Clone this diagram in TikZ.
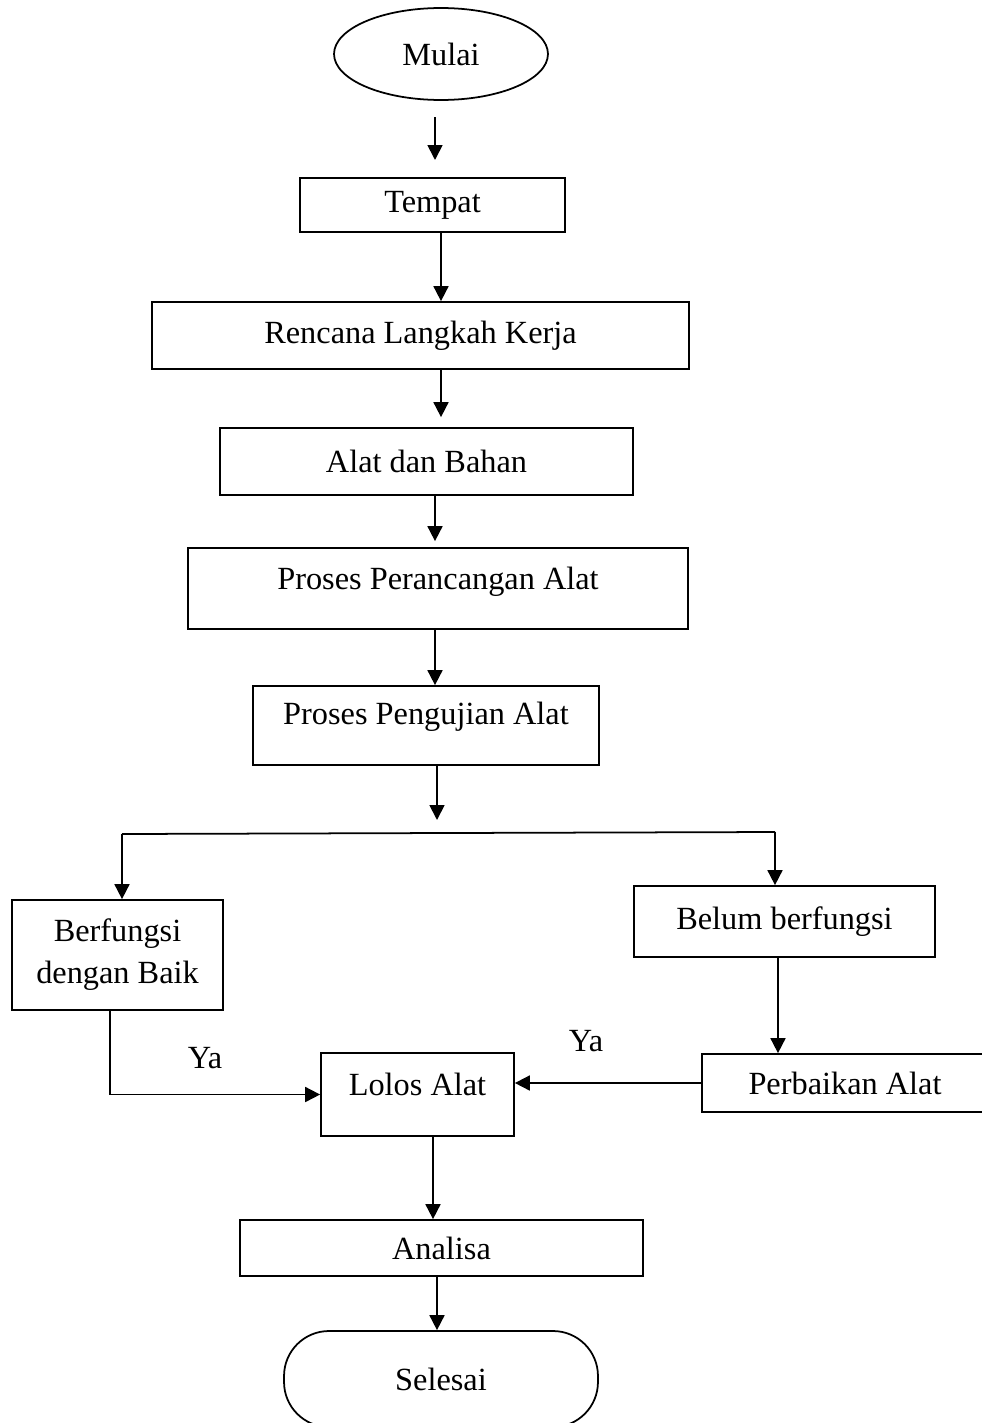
\documentclass[tikz,border=0pt]{standalone}
\usepackage{fontspec}
\setmainfont{Liberation Serif}
\usetikzlibrary{arrows.meta,shapes.geometric}

\tikzset{
  box/.style={draw,line width=1pt,rectangle,inner sep=0pt,align=center},
  arr/.style={-{Triangle[length=0.3cm,width=0.3cm]},line width=1pt},
  line/.style={line width=1pt},
}

\begin{document}
\begin{tikzpicture}[x=0.02cm,y=-0.02cm,font=\fontsize{18.4}{23.8}\selectfont]
\useasboundingbox (0,0) rectangle (982,1423);
% boxes
\node[draw,line width=1pt,ellipse,minimum width=4.28cm,minimum height=1.84cm,inner sep=0pt] (mulai) at (441,54) {Mulai};
\node[box,minimum width=5.3cm,minimum height=1.08cm] (tempat) at (432.5,205) {Tempat};
\node[box,minimum width=10.74cm,minimum height=1.34cm] (rencana) at (420.5,335.5) {Rencana Langkah Kerja};
\node[box,minimum width=8.26cm,minimum height=1.34cm] (alat) at (426.5,461.5) {Alat dan Bahan};
\node[box,minimum width=10cm,minimum height=1.62cm,text depth=12pt] (perancangan) at (438,588.5) {Proses Perancangan Alat};
\node[box,minimum width=6.92cm,minimum height=1.58cm,text depth=14pt] (pengujian) at (426,725.5) {Proses Pengujian Alat};
\node[box,minimum width=4.22cm,minimum height=2.2cm] (berfungsi) at (117.5,955) {Berfungsi\\dengan Baik};
\node[box,minimum width=6.02cm,minimum height=1.42cm] (belum) at (784.5,921.5) {Belum berfungsi};
\node[box,minimum width=5.72cm,minimum height=1.16cm] (perbaikan) at (845,1083) {Perbaikan Alat};
\node[box,minimum width=3.86cm,minimum height=1.66cm,text depth=12pt] (lolos) at (417.5,1094.5) {Lolos Alat};
\node[box,minimum width=8.06cm,minimum height=1.12cm] (analisa) at (441.5,1248) {Analisa};
\node[box,rounded corners=0.9cm,minimum width=6.28cm,minimum height=1.92cm] (selesai) at (441,1379) {Selesai};
\node (ya1) at (205,1058) {Ya};
\node (ya2) at (586,1041) {Ya};
% connectors
\coordinate (top1) at (435,117);
\coordinate (tip1) at (435,160);
\coordinate (tip6) at (437,820);
\coordinate (splitL) at (122,834);
\coordinate (splitR) at (775,832);
\draw[arr] (top1) -- (tip1);
\draw[arr] (tempat.south -| 441,0) -- (rencana.north -| 441,0);
\draw[arr,shorten >=0.2cm] (rencana.south -| 441,0) -- (alat.north -| 441,0);
\draw[arr,shorten >=0.12cm] (alat.south -| 435,0) -- (perancangan.north -| 435,0);
\draw[arr] (perancangan.south -| 435,0) -- (pengujian.north -| 435,0);
\draw[arr] (pengujian.south -| tip6) -- (tip6);
\draw[line] (splitL) -- (splitR);
\draw[arr] (splitL) -- (splitL |- berfungsi.north);
\draw[arr] (splitR) -- (splitR |- belum.north);
\draw[arr] (belum.south -| 778,0) -- (perbaikan.north -| 778,0);
\draw[arr] (perbaikan.west) -- (perbaikan.west -| lolos.east);
\draw[arr] (berfungsi.south -| 110,0) |- (lolos.west);
\draw[arr] (lolos.south -| 433,0) -- (analisa.north -| 433,0);
\draw[arr] (analisa.south -| 437,0) -- (selesai.north -| 437,0);
\end{tikzpicture}
\end{document}
